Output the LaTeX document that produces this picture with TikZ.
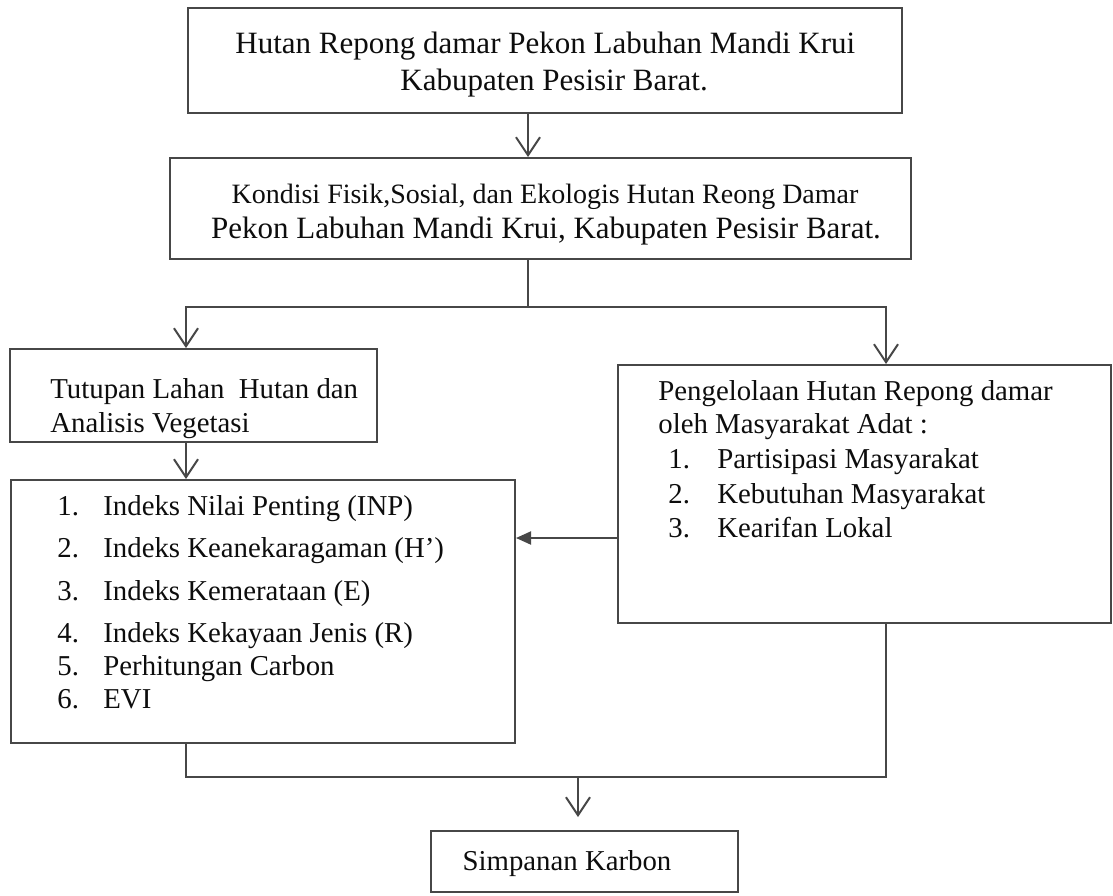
\documentclass[tikz,border=0pt]{standalone}
\usepackage{fontspec}
\setmainfont{Liberation Serif}
\usetikzlibrary{arrows.meta}

\begin{document}
\begin{tikzpicture}[x=0.5pt,y=-0.5pt,
  box/.style={draw=black!72, line width=1pt, inner sep=0pt},
  txt/.style={anchor=base west, inner sep=0pt, text=black!95, font=\fontsize{14.4}{17}\selectfont},
  bigtxt/.style={anchor=base, inner sep=0pt, text=black!95, font=\fontsize{15.5}{19}\selectfont},
  link/.style={draw=black!72, line width=1pt},
  varr/.style={link, -{Straight Barb[length=9pt,width=12pt]}},
  farr/.style={link, -{Triangle[length=7.5pt,width=6.5pt]}}]
  \useasboundingbox (0,0) rectangle (1113,895);

  % boxes
  \node[box, minimum width=357pt, minimum height=52.5pt] (b1) at (545,60.5) {};
  \node[box, minimum width=370.5pt, minimum height=50.5pt] (b2) at (540.5,208.5) {};
  \node[box, minimum width=183.5pt, minimum height=46.5pt] (b3) at (193.5,395.5) {};
  \node[box, minimum width=246.5pt, minimum height=129pt] (b4) at (864.5,494) {};
  \node[box, minimum width=252pt, minimum height=131.5pt] (b5) at (263,611.5) {};
  \node[box, minimum width=153.5pt, minimum height=30.5pt] (b6) at (584.5,861.5) {};

  % texts
  \node[bigtxt, anchor=base west] (t1a) at (235,53) {Hutan Repong damar Pekon Labuhan Mandi Krui};
  \node[bigtxt, anchor=base west] (t1b) at (400,90) {Kabupaten Pesisir Barat.};

  \node[txt, anchor=base, font=\fontsize{14}{17}\selectfont] (t2a) at (545,203) {Kondisi Fisik,Sosial, dan Ekologis Hutan Reong Damar};
  \node[bigtxt] (t2b) at (546,238) {Pekon Labuhan Mandi Krui, Kabupaten Pesisir Barat.};

  \node[txt] (t3a) at (50,398) {Tutupan Lahan~ Hutan dan};
  \node[txt] (t3b) at (50,432) {Analisis Vegetasi};

  \node[txt] (t4a) at (658,400) {Pengelolaan Hutan Repong damar};
  \node[txt] (t4b) at (658,433) {oleh Masyarakat Adat :};
  \foreach \n/\item/\y in {1/Partisipasi Masyarakat/468, 2/Kebutuhan Masyarakat/503, 3/Kearifan Lokal/537}
    \node[txt] (m\n) at (668,\y) {\makebox[24.5pt][l]{\n.}\item};

  \foreach \n/\item/\y in {1/Indeks Nilai Penting (INP)/515, 2/Indeks Keanekaragaman (H’)/557,
      3/Indeks Kemerataan (E)/600, 4/Indeks Kekayaan Jenis (R)/642, 5/Perhitungan Carbon/675, 6/EVI/708}
    \node[txt] (v\n) at (57,\y) {\makebox[23pt][l]{\n.}\item};

  \node[txt, anchor=base] (t6) at (567,870) {Simpanan Karbon};

  % connectors
  \coordinate (split) at (528,307);
  \coordinate (lcol) at (186,307);
  \coordinate (rcol) at (886,307);
  \coordinate (side) at (600,538);
  \coordinate (join) at (578,777);

  \draw[varr] (b1.south -| split) -- (b2.north -| split);
  \draw[link] (b2.south -| split) -- (split);
  \draw[varr] (split) -| (b3.north -| lcol);
  \draw[varr] (split) -| (b4.north -| rcol);
  \draw[varr] (b3.south -| lcol) -- (b5.north -| lcol);
  \draw[farr] (b4.west |- side) -- (b5.east |- side);
  \draw[link] (b5.south -| lcol) |- (join) -| (b4.south -| rcol);
  \draw[varr, shorten >=6.5pt] (join) -- (b6.north -| join);
\end{tikzpicture}
\end{document}
